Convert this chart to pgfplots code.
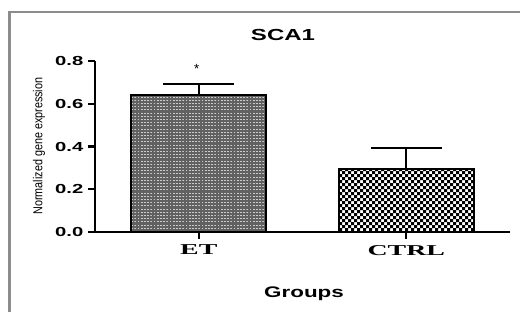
\documentclass[border=0pt]{standalone}
\usepackage{fontspec}
\setmainfont{Liberation Sans}
\newfontfamily\serifb{Liberation Serif}
\usepackage{graphicx}
\usepackage{pgfplots}
\pgfplotsset{compat=1.18}
\usetikzlibrary{patterns}

\pgfdeclarepatternformonly{etgrid}{\pgfqpoint{-0.1pt}{-0.1pt}}{\pgfqpoint{2.6pt}{2.6pt}}{\pgfqpoint{2.4pt}{2.4pt}}{
  \pgfpathrectangle{\pgfqpoint{0pt}{0pt}}{\pgfqpoint{1.3pt}{0.8pt}}
  \pgfusepath{fill}}
\pgfdeclarepatternformonly{ctrlcheck}{\pgfqpoint{-0.1pt}{-0.1pt}}{\pgfqpoint{4.6pt}{4.6pt}}{\pgfqpoint{4.5pt}{4.5pt}}{
  \pgfpathrectangle{\pgfpointorigin}{\pgfqpoint{2.25pt}{2.25pt}}
  \pgfpathrectangle{\pgfqpoint{2.25pt}{2.25pt}}{\pgfqpoint{2.25pt}{2.25pt}}
  \pgfusepath{fill}}

\pgfplotstableread{
x y e
0 0.642 0.052
}\ettable
\pgfplotstableread{
x y e
1 0.295 0.099
}\ctrltable

\begin{document}
\begin{tikzpicture}
\useasboundingbox (0,0) rectangle (390pt,234pt);
\draw[line width=2pt, color=black!45] (7pt,0) -- (7pt,225pt) -- (390pt,225pt);
\begin{axis}[
  at={(71.25pt,60pt)}, anchor=south west,
  scale only axis, width=311.25pt, height=128.25pt,
  xmin=-0.5, xmax=1.5, ymin=0, ymax=0.8,
  clip=false,
  axis x line=bottom, axis y line=left,
  axis line style={line width=1.6pt, -},
  xtick={0,1},
  xticklabels={{\scalebox{1.85}[1]{\serifb\bfseries ET}},{\scalebox{1.85}[1]{\serifb\bfseries CTRL}}},
  xticklabel style={font=\fontsize{11.3}{12}\selectfont, yshift=-1pt},
  ytick={0,0.2,0.4,0.6,0.8},
  yticklabels={0.0,0.2,0.4,0.6,0.8},
  yticklabel style={font=\fontsize{9.8}{10}\selectfont\bfseries},
  yticklabel={\scalebox{1.55}[1]{\bfseries\tick}},
  tick align=outside,
  major tick length=5.25pt,
  tick style={line width=1.6pt, black},
  bar width=101.25pt,
]
\addplot[ybar, bar shift=0pt, draw=black, line width=1.6pt, fill=black!62,
  postaction={pattern=etgrid, pattern color=white!80!black},
  error bars/.cd, y dir=plus, y explicit,
  error bar style={line width=1.6pt, black},
  error mark options={rotate=90, line width=1.6pt, mark size=26.6pt, black}]
  table[x=x, y=y, y error=e] {\ettable};
\addplot[ybar, bar shift=0pt, draw=black, line width=1.6pt, fill=white,
  postaction={pattern=ctrlcheck, pattern color=black},
  error bars/.cd, y dir=plus, y explicit,
  error bar style={line width=1.6pt, black},
  error mark options={rotate=90, line width=1.6pt, mark size=26.6pt, black}]
  table[x=x, y=y, y error=e] {\ctrltable};
\node[font=\fontsize{10}{10}\selectfont] at (axis cs:-0.01,0.765) {*};
\end{axis}
\node at (283pt*0.75,{(312-35)*0.75pt}) {\scalebox{1.5}[1]{\fontsize{12}{12}\selectfont\bfseries SCA1}};
\node at (304pt*0.75,{(312-294)*0.75pt}) {\scalebox{1.46}[1]{\fontsize{11.5}{12}\selectfont\bfseries Groups}};
\node[rotate=90] at (39pt*0.75,{(312-146)*0.75pt}) {\scalebox{1}[1.2]{\fontsize{8.1}{8}\selectfont Normalized gene expression}};
\end{tikzpicture}
\end{document}
